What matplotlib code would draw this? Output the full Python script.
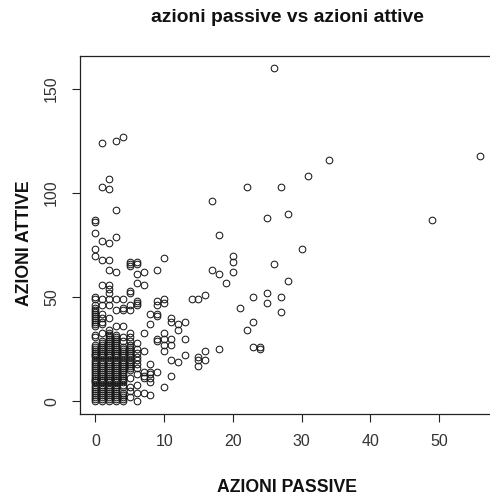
import matplotlib
matplotlib.use("Agg")
import matplotlib.pyplot as plt

plt.rcParams["font.family"] = ["Liberation Sans", "DejaVu Sans"]

# dense columns: azioni attive counted for each low value of azioni passive
attive_p0 = list(range(0, 28)) + [9, 10, 22, 31, 32, 36, 37, 38, 39, 40, 41, 42, 43, 44, 45, 46, 49, 50, 70, 73, 81, 86, 87]
attive_p1 = list(range(0, 30)) + [9, 10, 22, 33, 37, 38, 40, 42, 46, 49, 56, 68, 77, 103, 124]
attive_p2 = list(range(0, 35)) + [9, 10, 22, 40, 46, 49, 52, 54, 56, 63, 68, 76, 102, 107]
attive_p3 = list(range(0, 33)) + [9, 10, 22, 36, 44, 49, 62, 79, 92, 125]
attive_p4 = [0, 1, 2, 3, 4, 7, 8, 9, 10, 10, 11, 12, 13, 14, 15, 16, 17, 18, 19, 20, 21, 22, 23, 24, 25, 26,
             29, 31, 36, 44, 45, 49, 127]
attive_p5 = [2, 5, 7, 11, 15, 16, 17, 18, 19, 20, 21, 22, 23, 24, 25, 26, 27, 29, 31, 33, 44, 46, 52, 53, 65, 66, 67]
attive_p6 = [0, 4, 8, 13, 16, 18, 20, 21, 23, 25, 28, 46, 47, 48, 57, 61, 66, 67]
attive_p7 = [4, 11, 12, 14, 24, 33, 56, 62]
attive_p8 = [3, 9, 11, 13, 14, 18, 37, 42]
attive_p9 = [14, 29, 30, 41, 42, 46, 48, 63]
attive_p10 = [7, 24, 27, 30, 33, 47, 49, 69]
attive_p11 = [12, 20, 27, 30, 38, 40]
attive_p12 = [19, 34, 37]
attive_p13 = [22, 30, 38]

# scattered users with more passive actions
sparse_passive = [14, 15, 15, 15, 15, 16, 16, 16, 17, 17, 18, 18, 18, 19, 20, 20, 20, 21, 22, 22,
                  23, 23, 23, 24, 24, 25, 25, 25, 26, 26, 27, 27, 27, 28, 28, 30, 31, 34, 49, 56]
sparse_attive = [49, 49, 21, 20, 17, 51, 24, 20, 96, 63, 80, 61, 25, 57, 70, 67, 62, 45, 103, 34,
                 50, 38, 26, 26, 25, 88, 52, 47, 160, 66, 103, 50, 43, 90, 58, 73, 108, 116, 87, 118]

columns = [attive_p0, attive_p1, attive_p2, attive_p3, attive_p4, attive_p5, attive_p6,
           attive_p7, attive_p8, attive_p9, attive_p10, attive_p11, attive_p12, attive_p13]

passive = []
attive = []
for p, col in enumerate(columns):
    passive += [p] * len(col)
    attive += col
passive += sparse_passive
attive += sparse_attive

W, H = 490, 500
fig = plt.figure(figsize=(W / 100, H / 100), dpi=100)

# plot region in pixels: left, top, right, bottom
left, top, right, bottom = 80, 56, 495.7, 414.3
ax = fig.add_axes([left / W, 1 - bottom / H, (right - left) / W, (bottom - top) / H])

ax.plot(passive, attive, linestyle="none", marker="o", markersize=4.8,
        markerfacecolor="none", markeredgecolor="#1a1a1a", markeredgewidth=0.75)

ax.set_xlim(-2.24, 58.24)
ax.set_ylim(-6.3, 165.9)
ax.set_xticks([0, 10, 20, 30, 40, 50])
ax.set_yticks([0, 50, 100, 150])
ax.tick_params(axis="both", direction="out", length=6, width=0.8, labelsize=11.5,
               colors="#222222", labelcolor="#333333")
ax.tick_params(axis="x", pad=8)
ax.tick_params(axis="y", pad=9)
for lbl in ax.get_yticklabels():
    lbl.set_rotation(90)
    lbl.set_va("center")
for s in ax.spines.values():
    s.set_linewidth(0.9)
    s.set_color("#222222")

fig.text(287.5 / W, 1 - 18 / H, "azioni passive vs azioni attive",
         ha="center", va="center", fontsize=13.9, fontweight="bold", color="#111111")
fig.text(287 / W, 1 - 487 / H, "AZIONI PASSIVE",
         ha="center", va="center", fontsize=12.7, fontweight="bold", color="#111111")
fig.text(24.5 / W, 1 - 243 / H, "AZIONI ATTIVE", rotation=90,
         ha="center", va="center", fontsize=12.7, fontweight="bold", color="#111111")

fig.savefig("out.png", dpi=100)
